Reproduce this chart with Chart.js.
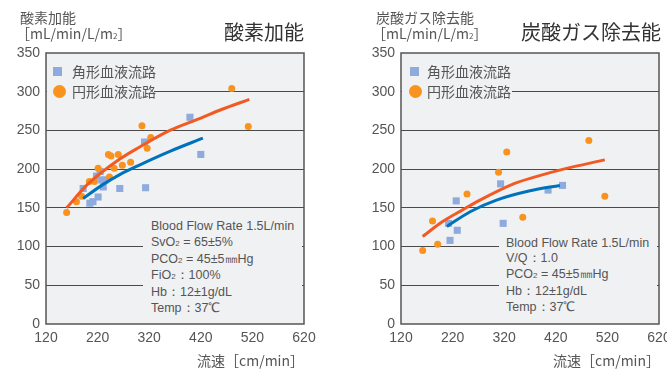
<!DOCTYPE html>
<html lang="ja">
<head>
<meta charset="utf-8">
<script src="https://cdn.jsdelivr.net/npm/chart.js@4.4.0/dist/chart.umd.min.js"></script>
<style>
    body { margin: 0; background: #fff; }
    #page { position: relative; width: 667px; height: 374px; overflow: hidden; font-family: "Noto Sans CJK JP", sans-serif; color: #555; }
    .panel { position: absolute; top: 0; height: 374px; }
    .unit { position: absolute; font-size: 14px; line-height: 18px; white-space: nowrap; }
    .title { position: absolute; font-size: 20px; line-height: 24px; color: #333; white-space: nowrap; }
    .xtitle { position: absolute; font-size: 14px; line-height: 18px; text-align: right; white-space: nowrap; }
    .legend { position: absolute; background: #f0f1f3; font-size: 14px; }
    .legend .row { position: relative; height: 19.5px; line-height: 19.5px; }
    .legend .sq { position: absolute; left: 0; top: 5px; width: 9px; height: 9px; background: #8faadc; }
    .legend .dot { position: absolute; left: 0; top: 3px; width: 13px; height: 13px; border-radius: 50%; background: #f7931e; }
    .legend .txt { position: absolute; left: 19.5px; top: 0; white-space: nowrap; }
    .note { position: absolute; background: #f0f1f3; font-family: "Liberation Sans", sans-serif; font-size: 12.5px; line-height: 15.8px; white-space: nowrap; box-sizing: border-box; }
    .s { font-size: 8px; }
</style>
</head>
<body>
<div id="page">
    <div class="panel" style="left:0;width:333px"><canvas id="o2Chart" width="333" height="374"></canvas></div>
    <div class="panel" style="left:333px;width:350px"><canvas id="co2Chart" width="350" height="374"></canvas></div>

    <!-- left: 酸素加能 -->
    <div class="unit" style="left:20px;top:8px">酸素加能</div>
    <div class="unit" style="left:16px;top:24px">［mL/min/L/m<span class="s">2</span>］</div>
    <div class="title" style="left:224px;top:20px">酸素加能</div>
    <div class="legend" style="left:47px;top:62px;width:107px;height:40px">
        <div class="row"><span class="sq" style="left:5.5px"></span><span class="txt" style="left:25px">角形血液流路</span></div>
        <div class="row"><span class="dot" style="left:5.5px"></span><span class="txt" style="left:25px">円形血液流路</span></div>
    </div>
    <div class="note" style="left:143px;top:217px;width:159px;height:100px;padding:2px 0 0 8px">
        Blood Flow Rate 1.5L/min<br>
        SvO<span class="s">2</span> = 65±5%<br>
        PCO<span class="s">2</span> = 45±5㎜Hg<br>
        FiO<span class="s">2</span>：100%<br>
        Hb：12±1g/dL<br>
        Temp：37℃
    </div>
    <div class="xtitle" style="left:0;width:304px;top:351px">流速［cm/min］</div>

    <!-- right: 炭酸ガス除去能 -->
    <div class="unit" style="left:376px;top:8px">炭酸ガス除去能</div>
    <div class="unit" style="left:372px;top:24px">［mL/min/L/m<span class="s">2</span>］</div>
    <div class="title" style="left:521px;top:20px">炭酸ガス除去能</div>
    <div class="legend" style="left:402px;top:62px;width:110px;height:40px">
        <div class="row"><span class="sq" style="left:8px"></span><span class="txt" style="left:25px">角形血液流路</span></div>
        <div class="row"><span class="dot" style="left:6.5px"></span><span class="txt" style="left:25px">円形血液流路</span></div>
    </div>
    <div class="note" style="left:499px;top:234px;width:158px;height:84px;padding:1.5px 0 0 7px">
        Blood Flow Rate 1.5L/min<br>
        V/Q：1.0<br>
        PCO<span class="s">2</span> = 45±5㎜Hg<br>
        Hb：12±1g/dL<br>
        Temp：37℃
    </div>
    <div class="xtitle" style="left:333px;width:327px;top:351px">流速［cm/min］</div>
</div>

<script>
// Axis ticks (flow cm/min, capacity mL/min/L/m2)
const xTicks = [120, 220, 320, 420, 520, 620];
const yMax = 350;

// 酸素加能 — [flow, value]
const o2Square = [[192, 175], [205, 156], [211, 158], [221, 164], [218, 191], [225, 197], [228, 186],
    [234, 186], [231, 177], [263, 175], [313, 176], [311, 235], [399, 267], [420, 219]];
const o2Circle = [[160, 144], [179, 158], [189, 165], [204, 184], [214, 184], [221, 201], [241, 219],
    [246, 217], [260, 219], [252, 201], [243, 190], [268, 205], [284, 209], [306, 256], [323, 241],
    [316, 227], [480, 304], [512, 255]];
const o2CircleFit = [[160, 150], [200, 180], [263, 213], [300, 228], [360, 250], [420, 266], [460, 277], [514, 290]];
const o2SquareFit = [[192, 162], [230, 180], [263, 193], [300, 205], [360, 223], [424, 240]];

// 炭酸ガス除去能 — [flow, value]
const co2Square = [[212, 130], [215, 108], [227, 159], [229, 121], [313, 181], [318, 130], [405, 173], [433, 179]];
const co2Circle = [[162, 95], [181, 133], [191, 103], [248, 168], [309, 196], [325, 222], [356, 138], [484, 237], [515, 165]];
const co2CircleFit = [[162, 113], [200, 132], [241, 148], [273, 160], [338, 181], [380, 190], [435, 200], [515, 212]];
const co2SquareFit = [[209, 126], [254, 145], [305, 160], [370, 172], [428, 179]];

const toPoints = arr => arr.map(([x, y]) => ({ x, y }));

// grey plot background + frame
const plotFrame = {
    id: 'plotFrame',
    beforeDraw(chart) {
        const { ctx, chartArea: a } = chart;
        ctx.save();
        ctx.fillStyle = '#f0f1f3';
        ctx.fillRect(a.left, a.top, a.width, a.height);
        ctx.restore();
    },
    afterDraw(chart) {
        const { ctx, chartArea: a } = chart;
        ctx.save();
        ctx.strokeStyle = '#555';
        ctx.lineWidth = 1.5;
        ctx.strokeRect(a.left, a.top, a.width, a.height);
        ctx.restore();
    }
};

function makeChart(id, squares, circles, squareFit, circleFit, axisWidth, padRight) {
    const tickFont = { family: '"Liberation Sans Narrow", "Liberation Sans", sans-serif', size: 14 };
    const fitLine = (pts, color) => ({
        data: toPoints(pts), showLine: true, pointRadius: 0, borderColor: color, borderWidth: 3,
        cubicInterpolationMode: 'monotone', order: 0
    });
    return new Chart(document.getElementById(id), {
        type: 'scatter',
        data: {
            datasets: [
                fitLine(circleFit, '#f15a22'),
                fitLine(squareFit, '#0072bc'),
                { data: toPoints(circles), pointStyle: 'circle', pointRadius: 3.5, backgroundColor: '#f7931e', borderWidth: 0, order: 1 },
                { data: toPoints(squares), pointStyle: 'rect', pointRadius: 5, backgroundColor: '#8faadc', borderWidth: 0, order: 2 }
            ]
        },
        options: {
            responsive: false,
            animation: false,
            layout: { padding: { left: 0, right: padRight, top: 53, bottom: 20 } },
            plugins: { legend: { display: false }, tooltip: { enabled: false } },
            scales: {
                x: {
                    type: 'linear',
                    min: xTicks[0],
                    max: xTicks[xTicks.length - 1],
                    afterBuildTicks: scale => { scale.ticks = xTicks.map(v => ({ value: v })); },
                    afterFit: scale => { scale.height = 30; },
                    grid: { display: false, drawTicks: false },
                    border: { display: false },
                    ticks: { color: '#555', font: tickFont, padding: 6, maxRotation: 0 }
                },
                y: {
                    min: 0,
                    max: yMax,
                    afterFit: scale => { scale.width = axisWidth; },
                    grid: {
                        drawTicks: false,
                        color: c => (c.tick.value === 0 || c.tick.value === yMax) ? 'rgba(0,0,0,0)' : '#4a4a4a',
                        lineWidth: 1
                    },
                    border: { display: false },
                    ticks: { stepSize: 50, color: '#555', font: tickFont, padding: 6 }
                }
            }
        },
        plugins: [plotFrame]
    });
}

makeChart('o2Chart', o2Square, o2Circle, o2SquareFit, o2CircleFit, 46, 29);
makeChart('co2Chart', co2Square, co2Circle, co2SquareFit, co2CircleFit, 68, 24);
</script>
</body>
</html>
